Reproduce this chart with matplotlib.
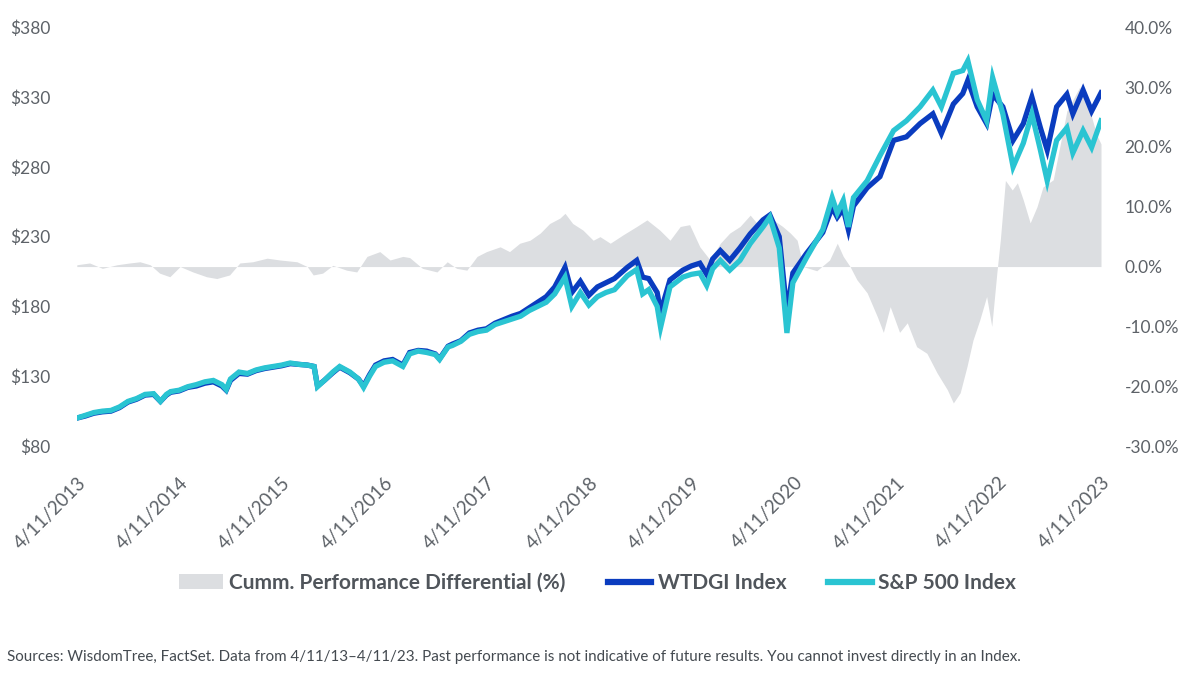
import matplotlib
matplotlib.use("Agg")
import matplotlib.pyplot as plt
from matplotlib.patches import Patch
from matplotlib.lines import Line2D
import numpy as np

plt.rcParams['font.family'] = ['Lato', 'DejaVu Sans']

# months after 4/11/2013, with extra points at the sharp moves
months = [0, 1, 2, 3, 4, 5, 6, 7, 8, 9, 9.8, 10.5, 11, 12, 13, 14, 15, 16, 17, 17.5,
          18, 19, 20, 21, 22, 23, 24, 25, 26, 27, 27.8, 28.2, 29, 30, 30.8, 32, 33, 33.6, 34.3, 35,
          36, 37, 38.2, 39, 40, 41, 42, 42.5, 43.5, 44, 45, 46, 47, 48, 49, 50, 51, 52, 53, 54,
          55, 56, 57.2, 58, 59, 60, 61, 62, 63, 64.5, 65.6, 66.3, 67, 68, 68.4, 69.5, 71, 72, 73, 73.8,
          74.5, 75.4, 76.5, 77.7, 78.9, 80.4, 81.2, 82.3, 83.2, 83.9, 85.5, 87.4, 88.5, 89.1, 89.8, 90.4, 91, 92.6, 94.1, 95.7,
          97.2, 98.8, 100.3, 101.3, 102.7, 103.8, 104.4, 105.5, 106.6, 107.3, 108.5, 109.7, 110.9, 111.9, 112.9, 113.7, 114.8, 116, 116.7, 117.9,
          118.9, 120]
sp500 = [100, 102, 104, 105, 105.5, 108, 112, 114, 117, 117.5, 112, 117, 119, 120, 122.5, 124, 126, 127, 124, 120.5,
         128, 133, 132, 134.5, 136, 137, 138, 139.5, 138.5, 138, 137, 122.5, 127, 133, 137, 133, 128, 122, 130, 137,
         140, 141, 137, 146, 148, 147, 145.5, 142, 151, 152, 155, 160, 162, 163, 167, 169, 171, 173, 177, 180,
         183, 189, 201, 180, 190, 181, 187, 190, 192, 202, 206.5, 189, 192, 180, 165, 194, 201, 203, 204, 195,
         207, 213, 206, 213, 225, 237, 244, 222, 161, 197, 215, 235, 258, 247, 256, 237, 258, 270, 288, 306,
         313, 323, 335, 323, 347, 349, 356, 328, 313, 344, 318, 280, 297, 318, 292, 270, 299, 308, 290, 306,
         294, 313]
wtdgi = [100, 101.5, 103.5, 104.5, 105, 107.5, 111.5, 113.5, 116.5, 117, 112, 116.5, 118.5, 119.5, 122, 123, 125, 126, 123, 120,
         127, 132, 131.5, 134, 135.5, 136.5, 137.5, 139, 138.5, 138, 137, 123, 127, 132.5, 136.5, 132.5, 128, 123, 131, 138,
         141, 142, 138, 147, 148.5, 148, 146, 142.5, 151.5, 153, 155.5, 161, 163, 164, 168, 170.5, 173, 175, 179, 183,
         187, 194, 208, 190, 198, 188, 194, 197, 200, 208, 213, 201, 200, 190, 176, 199, 206, 209, 211, 203,
         214, 220, 213, 222, 232, 242, 245.5, 230, 176, 204, 218, 233, 251, 244, 250, 235, 252, 265, 273, 299,
         301.5, 311, 318, 304, 325, 332.5, 342, 323, 311, 332, 323, 299, 311, 330, 308, 292, 323, 332, 318, 335,
         320, 333]

# cumulative performance differential (%)
diff_months = [0, 1.5, 3, 4.7, 6.2, 7.4, 8.6, 9.7, 10.9, 12.1, 13.6, 15.2, 16.4, 17.9, 19.1, 20.6, 22.3, 23.8,
               25.8, 27, 27.7, 28.8, 30, 31.6, 32.8, 34, 35.5, 36.7, 38.2, 39, 40.5, 42.2, 43.4, 44.5, 45.7, 46.9,
               48, 49.6, 50.7, 51.9, 53.1, 54.3, 55.4, 56.6, 57.2, 58.1, 59.3, 60.5, 61.3, 62.5, 64, 65.6, 66.8, 68.3,
               69.5, 70.7, 71.8, 73, 74.2, 75.4, 76.5, 77.7, 78.9, 80, 81.6, 82.7, 83.6, 84.4, 85.1, 86.7, 88.2, 89.1,
               89.8, 90.6, 91.4, 92.6, 93.8, 94.5, 95.3, 96.4, 97.3, 98.4, 99.6, 100.8, 102, 102.7, 103.5, 104.3, 105,
               105.8, 106.6, 107.2, 107.8, 108.2, 108.8, 109.6, 110.2, 110.9, 111.7, 112.5, 113.2, 114.4, 116, 117.5,
               118.5, 119.5, 120]
diff_pct = [0.3, 0.6, -0.3, 0.3, 0.6, 0.8, 0.3, -1.1, -1.7, 0, -0.9, -1.7, -2.0, -1.4, 0.6, 0.8, 1.4, 1.1,
            0.8, 0, -1.4, -1.1, 0.2, -0.6, -0.9, 1.7, 2.5, 1.1, 1.7, 1.5, -0.3, -0.9, 0.8, -0.3, -0.6, 1.7,
            2.5, 3.3, 2.5, 3.9, 4.4, 5.6, 7.2, 8.1, 8.9, 7.2, 6.1, 4.4, 5.0, 3.9, 5.3, 6.7, 7.8, 6.1,
            4.4, 6.7, 7.0, 3.3, 1.1, 3.9, 5.6, 6.7, 8.6, 6.7, 7.8, 6.7, 5.6, 4.4, 0, -0.7, 1.1, 3.9,
            1.7, 0, -2.2, -4.4, -8.4, -11, -6.7, -11, -9.4, -13.4, -14.5, -17.8, -20.6, -22.8, -21.1, -16.7, -12.3,
            -8.9, -5, -10, -1, 4.4, 14.4, 12.8, 14, 11.1, 7.3, 10, 13.3, 14.5, 26, 30,
            27, 22, 20.5]

year_labels = ['4/11/%d' % y for y in range(2013, 2024)]

BLUE = '#0a3cbf'
CYAN = '#2ac4d2'
GRAY = '#dcdee1'
TXT = '#5d6268'

fig = plt.figure(figsize=(12, 6.82), dpi=100)
ax = fig.add_axes([0.064, 0.346, 0.8535, 0.614])
ax2 = ax.twinx()

ax2.fill_between(diff_months, 0, diff_pct, color=GRAY, linewidth=0)
ax2.set_ylim(-30, 40)
ax2.set_yticks(np.arange(-30, 41, 10))
ax2.set_yticklabels(['%.1f%%' % v for v in np.arange(-30, 41, 10)])

ax.plot(months, wtdgi, color=BLUE, lw=3.8, solid_joinstyle='miter')
ax.plot(months, sp500, color=CYAN, lw=3.8, solid_joinstyle='miter')
ax.set_ylim(80, 380)
ax.set_yticks(range(80, 381, 50))
ax.set_yticklabels(['$%d' % v for v in range(80, 381, 50)])
ax.set_xlim(0, 120)
ax.set_xticks(range(0, 121, 12))
ax.set_xticklabels(year_labels, rotation=45, ha='right', va='top', rotation_mode='anchor')

# lines in front of the differential area
ax.set_zorder(ax2.get_zorder() + 1)
ax.patch.set_visible(False)

for a in (ax, ax2):
    for s in a.spines.values():
        s.set_visible(False)
    a.tick_params(length=0, labelsize=12.5, labelcolor=TXT)
ax.tick_params(axis='y', pad=19)
ax2.tick_params(axis='y', pad=17)
ax.tick_params(axis='x', labelsize=13.5, pad=20)

handles = [Patch(facecolor=GRAY, edgecolor='none'),
           Line2D([], [], color=BLUE, lw=4.5),
           Line2D([], [], color=CYAN, lw=4.5)]
labels = ['Cumm. Performance Differential (%)', 'WTDGI Index', 'S&P 500 Index']
leg = fig.legend(handles, labels, loc='center', bbox_to_anchor=(0.498, 0.145), ncol=3, frameon=False,
                 handlelength=2.1, handleheight=0.75, handletextpad=0.3, columnspacing=2.0,
                 prop={'size': 15, 'weight': 'bold'})
for t in leg.get_texts():
    t.set_color('#50555b')

fig.text(0.006, 0.037, 'Sources: WisdomTree, FactSet. Data from 4/11/13\u20134/11/23. Past performance is not '
         'indicative of future results. You cannot invest directly in an Index.',
         fontsize=10.9, color='#444a50', ha='left', va='center')

fig.savefig('out.png', dpi=100)
